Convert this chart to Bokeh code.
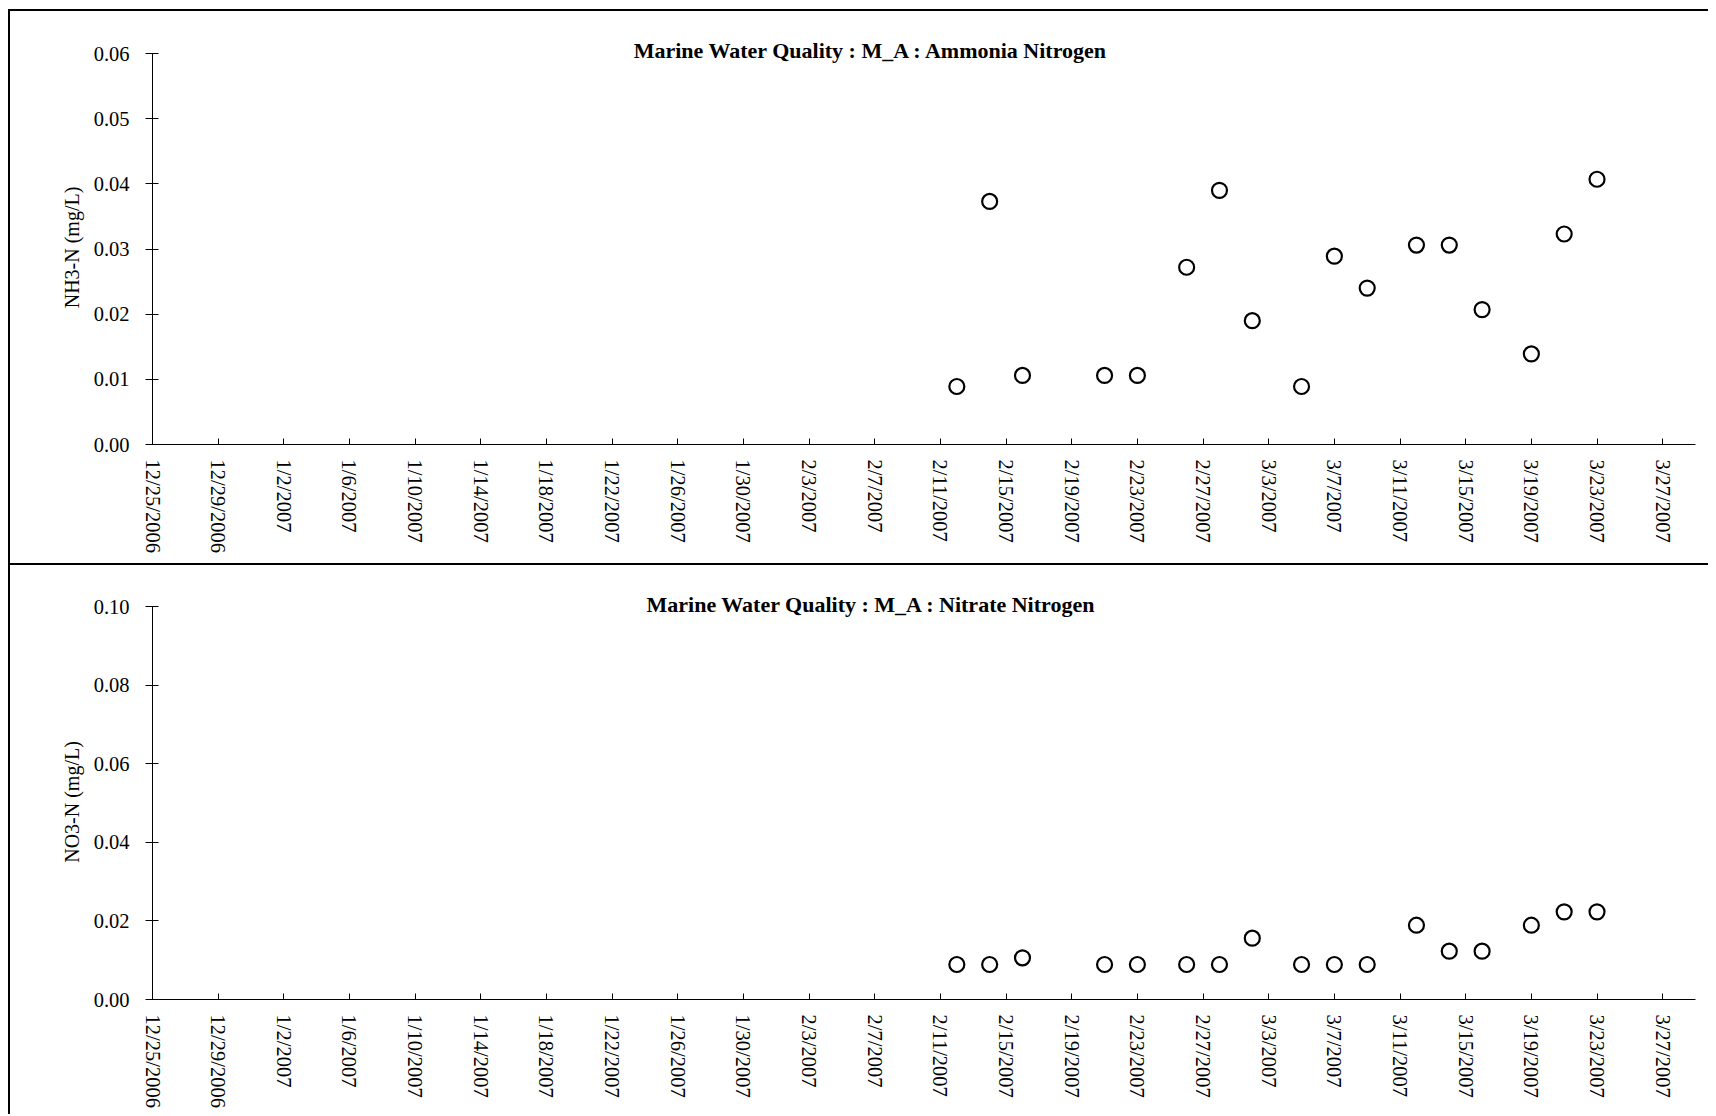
import pandas as pd
from bokeh.plotting import figure
from bokeh.models import FixedTicker, NumeralTickFormatter, Range1d, Label
from bokeh.layouts import column
from bokeh.embed import file_html
from bokeh.resources import INLINE

# ---------------- data ----------------
sample_dates = ["2007-02-12", "2007-02-14", "2007-02-16", "2007-02-21", "2007-02-23",
                "2007-02-26", "2007-02-28", "2007-03-02", "2007-03-05", "2007-03-07",
                "2007-03-09", "2007-03-12", "2007-03-14", "2007-03-16", "2007-03-19",
                "2007-03-21", "2007-03-23"]
nh3_values = [0.0089, 0.0373, 0.0106, 0.0106, 0.0106, 0.0272, 0.0390, 0.0190, 0.0089,
              0.0289, 0.0240, 0.0306, 0.0306, 0.0207, 0.0139, 0.0323, 0.0407]
no3_values = [0.0089, 0.0089, 0.0106, 0.0089, 0.0089, 0.0089, 0.0089, 0.0156, 0.0089,
              0.0089, 0.0089, 0.0189, 0.0123, 0.0123, 0.0189, 0.0223, 0.0223]
date_tick_labels = ["12/25/2006", "12/29/2006", "1/2/2007", "1/6/2007", "1/10/2007",
                    "1/14/2007", "1/18/2007", "1/22/2007", "1/26/2007", "1/30/2007",
                    "2/3/2007", "2/7/2007", "2/11/2007", "2/15/2007", "2/19/2007",
                    "2/23/2007", "2/27/2007", "3/3/2007", "3/7/2007", "3/11/2007",
                    "3/15/2007", "3/19/2007", "3/23/2007", "3/27/2007"]
nh3_ticks = [0.00, 0.01, 0.02, 0.03, 0.04, 0.05, 0.06]
no3_ticks = [0.00, 0.02, 0.04, 0.06, 0.08, 0.10]
nh3_title = "Marine Water Quality : M_A : Ammonia Nitrogen"
no3_title = "Marine Water Quality : M_A : Nitrate Nitrogen"
nh3_label = "NH3-N (mg/L)"
no3_label = "NO3-N (mg/L)"

FONT = "Liberation Serif"

dates = pd.to_datetime(sample_dates)
tick_dates = pd.to_datetime(date_tick_labels, format="%m/%d/%Y")
tick_ms = [float(t.value // 10**6) for t in tick_dates]
overrides = {ms: lab for ms, lab in zip(tick_ms, date_tick_labels)}
x_start = tick_dates[0]
x_end = tick_dates[-1] + pd.Timedelta(days=2)

W = 1700
LEFT = 142
RIGHT = 15
# non-breaking padding so the axis label is centred on the bounded axis
LABEL_PAD = "\u00a0" * 7


def panel(title, ylabel, values, yticks, height, top, bottom, axis_px, title_y,
          styles, margin):
    frame_h = height - top - bottom
    # the frame is taller than the axis so that the title can sit inside it
    y_end = yticks[-1] * frame_h / axis_px
    p = figure(width=W, height=height, x_axis_type="datetime",
               x_range=Range1d(x_start, x_end),
               y_range=Range1d(yticks[0], y_end),
               output_backend="svg", toolbar_location=None,
               min_border_left=LEFT, min_border_right=RIGHT,
               min_border_top=top, min_border_bottom=bottom,
               outline_line_color=None, background_fill_color="white",
               border_fill_color="white", styles=styles, margin=margin)
    p.grid.visible = False

    p.scatter(x=dates, y=values, marker="circle", size=15, fill_color=None,
              line_color="black", line_width=2.2)

    xa = p.xaxis[0]
    xa.ticker = FixedTicker(ticks=tick_ms)
    xa.major_label_overrides = overrides
    xa.major_label_orientation = "vertical"
    xa.major_tick_in = 6
    xa.major_tick_out = 0
    xa.minor_tick_in = 0
    xa.minor_tick_out = 0
    xa.major_label_standoff = 15
    xa.major_label_text_font = FONT
    xa.major_label_text_font_size = "20.5px"
    xa.major_label_text_color = "black"
    xa.axis_line_color = "black"
    xa.major_tick_line_color = "black"

    ya = p.yaxis[0]
    ya.bounds = (yticks[0], yticks[-1])
    ya.ticker = FixedTicker(ticks=yticks)
    ya.formatter = NumeralTickFormatter(format="0.00")
    ya.major_tick_in = 6
    ya.major_tick_out = 7
    ya.minor_tick_in = 0
    ya.minor_tick_out = 0
    ya.major_label_standoff = 16
    ya.major_label_text_font = FONT
    ya.major_label_text_font_size = "20.5px"
    ya.major_label_text_color = "black"
    ya.axis_line_color = "black"
    ya.major_tick_line_color = "black"
    ya.axis_label = ylabel + LABEL_PAD
    ya.axis_label_text_font = FONT
    ya.axis_label_text_font_style = "normal"
    ya.axis_label_text_font_size = "20px"
    ya.axis_label_text_color = "black"
    ya.axis_label_standoff = 8

    p.add_layout(Label(x=719, y=title_y, x_units="screen", y_units="screen",
                       text=title, text_align="center", text_baseline="alphabetic",
                       text_font=FONT, text_font_style="bold",
                       text_font_size="22px", text_color="black"))
    return p


border = "2px solid black"
p1 = panel(nh3_title, nh3_label, nh3_values, nh3_ticks, 556, 4, 123, 391, 393.7,
           {"border-top": border, "border-left": border, "border-bottom": border},
           (9, 0, 0, 8))
p2 = panel(no3_title, no3_label, no3_values, no3_ticks, 549, 4, 115, 393, 394.8,
           {"border-left": border}, (0, 0, 0, 8))

layout = column(p1, p2, spacing=0)
open("out.html", "w").write(file_html(layout, INLINE))
